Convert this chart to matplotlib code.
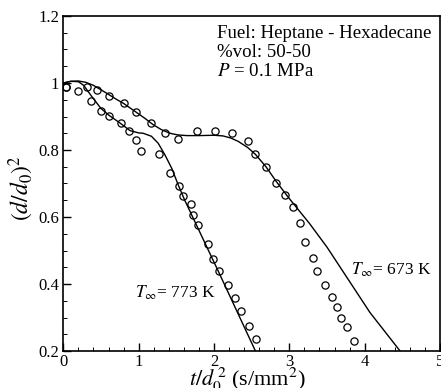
import matplotlib
matplotlib.use("Agg")
import matplotlib.pyplot as plt
from matplotlib.ticker import MultipleLocator

plt.rcParams['font.family'] = ['Liberation Serif', 'DejaVu Serif']
plt.rcParams['mathtext.fontset'] = 'stix'

# Experimental points
exp673_t = [0.03, 0.31, 0.45, 0.60, 0.80, 0.96, 1.17, 1.35, 1.525, 1.77, 2.02, 2.24, 2.445,
            2.55, 2.69, 2.82, 2.94, 3.05, 3.14, 3.21, 3.32, 3.37, 3.475, 3.56, 3.63, 3.69,
            3.76, 3.855]
exp673_d = [0.989, 0.989, 0.979, 0.961, 0.939, 0.913, 0.882, 0.851, 0.833, 0.856, 0.858,
            0.850, 0.828, 0.788, 0.748, 0.702, 0.666, 0.631, 0.583, 0.526, 0.477, 0.439,
            0.397, 0.362, 0.330, 0.299, 0.273, 0.230]

exp773_t = [0.03, 0.20, 0.37, 0.50, 0.61, 0.765, 0.875, 0.97, 1.03, 1.27, 1.415, 1.54,
            1.595, 1.70, 1.725, 1.79, 1.92, 1.99, 2.07, 2.18, 2.28, 2.36, 2.46, 2.555]
exp773_d = [0.989, 0.976, 0.947, 0.917, 0.902, 0.881, 0.857, 0.831, 0.798, 0.787, 0.730,
            0.692, 0.664, 0.639, 0.606, 0.576, 0.518, 0.475, 0.439, 0.397, 0.359, 0.319,
            0.276, 0.236]

# Model curves
mod673_t = [0.0, 0.1, 0.2, 0.3, 0.4, 0.55, 0.7, 0.8, 0.96, 1.08, 1.19, 1.3, 1.415, 1.52,
            1.64, 1.8, 2.0, 2.12, 2.22, 2.32, 2.45, 2.55, 2.69, 2.83, 3.0, 3.27, 3.5,
            3.69, 4.07, 4.47]
mod673_d = [1.0, 1.005, 1.006, 1.002, 0.993, 0.973, 0.952, 0.939, 0.914, 0.895, 0.876,
            0.861, 0.850, 0.845, 0.843, 0.843, 0.844, 0.842, 0.836, 0.826, 0.807, 0.787,
            0.750, 0.705, 0.655, 0.580, 0.510, 0.445, 0.315, 0.2]

mod773_t = [0.0, 0.1, 0.2, 0.27, 0.37, 0.5, 0.61, 0.75, 0.885, 1.0, 1.06, 1.17, 1.26,
            1.35, 1.44, 1.525, 1.61, 2.07, 2.55]
mod773_d = [1.0, 1.005, 1.004, 0.993, 0.962, 0.924, 0.903, 0.881, 0.858, 0.851, 0.850,
            0.841, 0.820, 0.785, 0.745, 0.696, 0.651, 0.432, 0.2]

fig = plt.figure(figsize=(4.41, 3.88), dpi=100)
ax = fig.add_axes([63.3 / 441, 37 / 388, 376.7 / 441, 335 / 388])

ax.plot(mod673_t, mod673_d, color='black', lw=1.0)
ax.plot(mod773_t, mod773_d, color='black', lw=1.0)
ax.plot(exp673_t, exp673_d, linestyle='none', marker='o', ms=5.2, mfc='none',
        mec='black', mew=0.9)
ax.plot(exp773_t, exp773_d, linestyle='none', marker='o', ms=5.2, mfc='none',
        mec='black', mew=0.9)

ax.set_xlim(0, 5)
ax.set_ylim(0.2, 1.2)
ax.xaxis.set_minor_locator(MultipleLocator(0.2))
ax.yaxis.set_minor_locator(MultipleLocator(0.05))
ax.set_xticks([0, 1, 2, 3, 4, 5])
ax.set_xticklabels(['0', '1', '2', '3', '4', '5'])
ax.set_yticks([0.2, 0.4, 0.6, 0.8, 1.0, 1.2])
ax.set_yticklabels(['0.2', '0.4', '0.6', '0.8', '1', '1.2'])
ax.tick_params(which='major', direction='in', length=6, width=1.0, labelsize=12,
               top=False, right=False, pad=3)
ax.tick_params(which='minor', direction='in', length=3, width=0.7, top=False, right=False)
ax.tick_params(axis='x', which='major', pad=2)
for s in ax.spines.values():
    s.set_linewidth(1.2)

ax.set_xlabel(r'$t/d_0^{\,2}$ (s/mm$^2$)', fontsize=16)
ax.xaxis.set_label_coords(0.49, -0.104)
ax.xaxis.label.set_va('baseline')
ax.set_ylabel(r'$(d/d_0)^2$', fontsize=17)
ax.yaxis.set_label_coords(-0.11, 0.487)
ax.yaxis.label.set_va('center')

ax.text(2.04, 1.134, 'Fuel: Heptane - Hexadecane', fontsize=13.6, va='baseline')
ax.text(2.04, 1.078, '%vol: 50-50', fontsize=13.6, va='baseline')
ax.text(2.04, 1.021, r'$P$ = 0.1 MPa', fontsize=13.6, va='baseline')
ax.text(0.95, 0.358, r'$T_{\infty}$= 773 K', fontsize=12.5, va='baseline')
ax.text(3.825, 0.427, r'$T_{\infty}$= 673 K', fontsize=12.5, va='baseline')

fig.savefig('out.png', dpi=100)
